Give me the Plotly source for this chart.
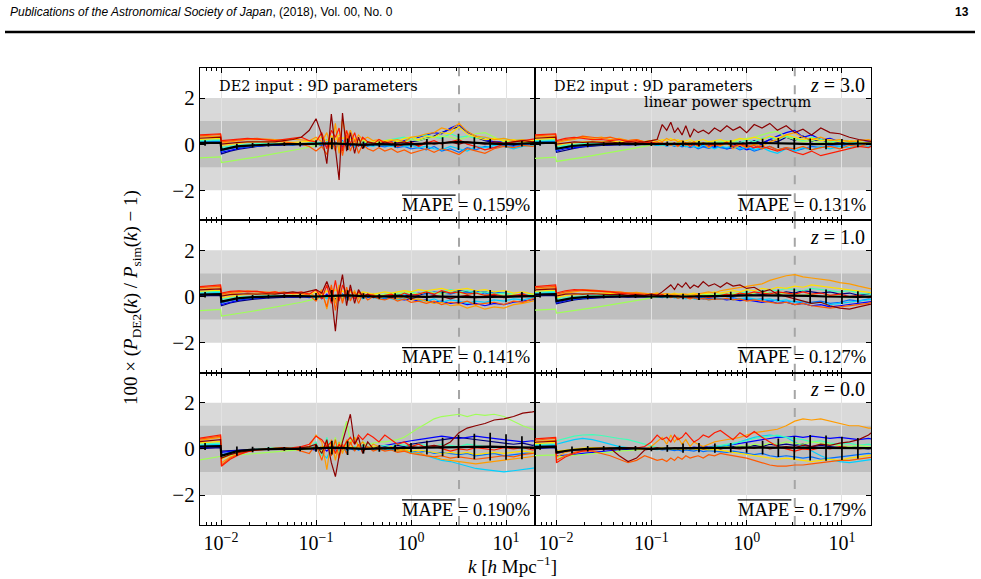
import plotly.graph_objects as go
from plotly.subplots import make_subplots

# ---------------- data ----------------
K = [0.0056, 0.0068, 0.0082, 0.0099, 0.0101, 0.0125, 0.0155, 0.019, 0.024, 0.03,
     0.037, 0.046, 0.057, 0.07, 0.085, 0.1, 0.115, 0.13, 0.145, 0.16,
     0.175, 0.19, 0.21, 0.23, 0.255, 0.28, 0.31, 0.35, 0.4, 0.46,
     0.53, 0.62, 0.72, 0.85, 1.0, 1.2, 1.45, 1.75, 2.1, 2.6,
     3.2, 3.9, 4.8, 6.0, 7.5, 9.5, 12.0, 15.0, 19.0, 22.0]

KM = [0.0056, 0.0068, 0.0099, 0.0101, 0.0147, 0.0215, 0.0316, 0.0464, 0.0681, 0.1,
      0.147, 0.215, 0.316, 0.464, 0.681, 1.0, 1.47, 2.15, 3.16, 4.64,
      6.81, 10.0, 14.7, 21.5]

COLORS = ["#00007f", "#0000ff", "#0070ff", "#00d0ff", "#40ffb8", "#a0ff58",
          "#ffe000", "#ff9c00", "#ff5a00", "#ff1a00", "#8b0000"]

Z3_DE2 = [
    [0.0,0.02,0.03,0.05,-0.42,-0.3,-0.22,-0.15,-0.1,-0.07,
     -0.05,-0.03,-0.04,-0.02,0.0,0.02,-0.05,0.05,-0.1,0.08,
     -0.05,0.1,-0.1,0.05,0.0,-0.08,0.05,0.0,-0.05,0.02,
     0.05,-0.02,0.1,0.05,0.1,0.15,0.25,0.35,0.5,0.65,
     0.75,0.55,0.3,0.15,0.05,0.02,-0.05,0.0,0.05,0.05],
    [0.05,0.06,0.07,0.08,-0.35,-0.25,-0.18,-0.12,-0.08,-0.05,
     -0.04,-0.02,0.0,-0.03,0.02,-0.05,0.08,-0.12,0.1,-0.08,
     0.12,-0.1,0.05,-0.08,0.1,-0.05,0.0,0.05,-0.03,0.08,
     0.0,0.1,0.05,0.15,0.2,0.3,0.4,0.5,0.45,0.7,
     0.85,0.5,0.35,0.2,0.1,0.1,0.0,-0.05,0.05,0.0],
    [0.1,0.1,0.12,0.12,-0.3,-0.2,-0.14,-0.1,-0.06,-0.04,
     -0.02,0.0,-0.05,0.02,-0.02,0.05,-0.1,0.1,-0.15,0.05,
     -0.1,0.15,-0.05,0.0,-0.12,0.05,-0.05,-0.1,0.0,-0.08,
     -0.12,-0.05,-0.15,-0.1,-0.2,-0.15,-0.25,-0.1,-0.3,-0.2,
     -0.35,-0.15,-0.25,-0.1,-0.15,-0.05,-0.1,0.0,-0.05,0.0],
    [0.12,0.14,0.15,0.16,-0.2,-0.12,-0.08,-0.05,-0.02,0.0,
     0.02,0.0,0.03,-0.02,0.05,0.0,0.12,0.2,-0.1,0.05,
     -0.2,0.1,-0.05,0.05,-0.1,0.0,-0.15,-0.05,-0.1,0.0,
     -0.05,-0.1,0.0,-0.1,-0.05,-0.15,-0.1,-0.2,-0.25,-0.1,
     -0.2,-0.3,-0.1,-0.15,-0.05,-0.1,-0.2,-0.1,-0.05,-0.1],
    [0.15,0.15,0.18,0.2,-0.15,-0.08,-0.03,0.0,0.02,0.03,
     0.05,0.03,0.05,0.0,0.05,0.1,0.0,0.05,0.1,-0.05,
     0.05,0.1,0.0,0.05,0.1,0.0,0.05,0.1,0.0,0.1,
     0.15,0.2,0.25,0.3,0.2,0.35,0.4,0.3,0.25,0.45,
     0.3,0.35,0.25,0.3,0.2,0.25,0.15,0.2,0.1,0.15],
    [-0.6,-0.58,-0.56,-0.55,-0.8,-0.75,-0.7,-0.62,-0.55,-0.48,
     -0.42,-0.35,-0.28,-0.2,-0.12,-0.05,0.0,0.05,0.1,0.0,
     0.1,0.05,0.15,0.0,0.1,0.05,0.15,0.05,0.1,0.05,
     0.1,0.05,0.15,0.1,0.2,0.15,0.25,0.3,0.35,0.3,
     0.2,0.3,0.45,0.5,0.3,0.1,0.15,0.05,0.1,0.05],
    [0.2,0.22,0.22,0.25,-0.05,0.0,0.05,0.08,0.1,0.1,
     0.12,0.1,0.08,0.1,0.12,0.2,0.3,0.15,0.35,0.2,
     0.4,0.25,0.3,0.2,0.25,0.15,0.2,0.1,0.15,0.1,
     0.15,0.2,0.1,0.25,0.3,0.2,0.35,0.3,0.5,0.45,
     0.75,0.45,0.3,0.2,0.25,0.15,0.2,0.1,0.15,0.1],
    [0.3,0.32,0.33,0.35,0.05,0.1,0.15,0.2,0.2,0.22,
     0.2,0.18,0.22,0.2,0.15,0.3,0.1,0.5,-0.2,0.9,
     -0.4,1.1,0.2,0.6,0.1,0.4,0.2,0.3,0.15,0.2,
     0.1,0.15,0.2,0.1,0.3,0.35,0.45,0.5,0.7,0.6,
     0.9,0.55,0.35,0.3,0.2,0.25,0.15,0.2,0.1,0.15],
    [0.35,0.38,0.4,0.42,0.1,0.15,0.2,0.22,0.25,0.2,
     0.15,0.1,0.05,0.0,-0.1,-0.3,-0.1,-0.45,0.2,-0.3,
     0.3,-0.5,0.4,-0.3,0.2,-0.4,0.0,-0.2,-0.3,-0.15,
     -0.3,-0.2,-0.35,-0.25,-0.4,-0.3,-0.2,-0.35,-0.2,-0.3,
     -0.45,-0.2,-0.3,-0.4,-0.2,-0.1,-0.15,-0.05,-0.1,0.0],
    [0.4,0.42,0.45,0.45,0.15,0.2,0.22,0.25,0.2,0.18,
     0.15,0.2,0.25,0.3,0.15,0.1,0.5,-0.2,0.6,0.3,
     0.7,-0.3,0.6,0.0,0.5,-0.1,0.3,0.1,0.0,0.2,
     0.05,0.1,-0.1,0.0,0.1,-0.1,0.05,0.15,0.0,0.1,
     0.2,0.0,-0.1,-0.25,-0.15,0.0,0.1,0.15,0.2,0.25],
    [0.25,0.27,0.28,0.3,0.0,0.05,0.08,0.1,0.1,0.12,
     0.1,0.15,0.2,0.3,0.6,1.1,0.4,-0.85,1.3,-0.2,
     -1.55,1.35,-0.3,0.5,-0.4,0.3,-0.2,0.1,0.05,0.0,
     0.1,0.0,0.05,0.1,0.0,-0.05,0.1,0.0,0.05,0.1,
     0.0,0.1,0.05,0.0,0.1,0.05,0.1,0.15,0.1,0.15],
]

Z3_LIN = [
    [0.0,0.02,0.03,0.05,-0.35,-0.25,-0.18,-0.12,-0.08,-0.05,
     -0.04,-0.03,-0.02,-0.04,-0.02,0.0,-0.03,0.02,-0.05,0.0,
     -0.02,0.03,-0.05,0.0,-0.03,0.02,-0.05,0.0,0.03,-0.02,
     0.0,0.05,-0.05,0.1,0.0,0.15,0.05,0.2,0.1,0.3,
     0.15,0.35,0.1,0.2,0.05,0.1,0.0,0.05,0.0,0.02],
    [0.05,0.06,0.07,0.08,-0.3,-0.2,-0.15,-0.1,-0.06,-0.04,
     -0.02,0.0,-0.03,0.0,0.02,-0.02,0.03,-0.05,0.02,-0.03,
     0.05,-0.05,0.02,-0.08,0.0,-0.05,0.05,-0.1,-0.05,-0.15,
     -0.1,-0.2,-0.15,-0.1,-0.25,-0.15,0.0,0.2,0.35,0.5,
     0.6,0.3,0.4,0.2,0.25,0.1,0.15,0.05,0.1,0.05],
    [0.1,0.1,0.12,0.12,-0.25,-0.15,-0.1,-0.07,-0.04,-0.02,
     0.0,-0.02,0.02,-0.03,0.0,0.03,-0.05,0.0,-0.08,-0.03,
     -0.1,-0.05,-0.12,-0.08,-0.15,-0.1,-0.2,-0.12,-0.18,-0.1,
     -0.15,-0.2,-0.1,-0.25,-0.15,-0.3,-0.2,-0.1,-0.25,-0.15,
     -0.3,-0.2,-0.1,-0.15,-0.05,-0.1,0.0,-0.05,0.0,-0.02],
    [0.12,0.14,0.15,0.16,-0.18,-0.1,-0.06,-0.03,0.0,0.02,
     0.0,0.03,0.0,0.02,-0.02,0.0,-0.05,-0.02,-0.08,0.0,
     -0.05,-0.1,-0.03,-0.12,-0.05,-0.1,-0.15,-0.05,-0.1,-0.2,
     -0.1,-0.15,-0.05,-0.2,-0.1,-0.25,-0.15,-0.3,-0.4,-0.2,
     -0.3,-0.15,-0.25,-0.1,-0.2,-0.1,-0.15,-0.05,-0.1,0.0],
    [0.15,0.15,0.18,0.2,-0.12,-0.05,0.0,0.02,0.03,0.05,
     0.03,0.05,0.02,0.05,0.0,0.03,0.0,-0.05,0.02,-0.05,
     0.0,-0.1,0.0,-0.05,-0.1,0.0,-0.05,0.05,0.0,0.05,
     0.1,0.0,0.15,0.05,0.2,0.1,0.25,0.3,0.2,0.35,
     0.25,0.15,0.3,0.2,0.1,0.15,0.05,0.1,0.05,0.0],
    [-0.62,-0.6,-0.58,-0.56,-0.75,-0.7,-0.64,-0.57,-0.5,-0.43,
     -0.37,-0.3,-0.24,-0.17,-0.1,-0.03,0.0,0.05,0.0,0.05,
     0.0,0.08,0.02,0.05,0.1,0.05,0.1,0.05,0.12,0.08,
     0.1,0.15,0.1,0.2,0.25,0.3,0.4,0.5,0.55,0.3,
     0.2,0.1,0.15,0.05,0.1,0.0,0.05,0.0,0.05,0.0],
    [0.2,0.22,0.22,0.25,-0.05,0.02,0.05,0.1,0.12,0.1,
     0.12,0.1,0.15,0.1,0.12,0.15,0.1,0.2,0.15,0.25,
     0.15,0.2,0.1,0.15,0.2,0.1,0.15,0.2,0.1,0.15,
     0.2,0.1,0.15,0.25,0.2,0.3,0.2,0.35,0.25,0.4,
     0.3,0.2,0.25,0.15,0.2,0.1,0.15,0.1,0.05,0.1],
    [0.3,0.32,0.33,0.35,0.05,0.15,0.2,0.3,0.25,0.3,
     0.2,0.25,0.15,0.2,0.1,0.15,0.2,0.1,0.25,0.15,
     0.2,0.1,0.15,0.05,0.1,0.0,-0.1,0.05,-0.15,0.0,
     -0.1,0.05,-0.2,-0.05,-0.15,0.0,-0.1,0.1,0.2,0.4,
     0.5,0.3,0.2,0.3,0.15,0.2,0.1,0.15,0.2,0.1],
    [0.35,0.38,0.4,0.42,0.1,0.2,0.25,0.35,0.3,0.25,
     0.3,0.2,0.15,0.2,0.1,0.05,0.1,0.0,0.05,-0.05,
     0.0,-0.1,0.05,-0.05,0.0,0.1,-0.05,0.05,-0.1,0.0,
     -0.05,0.1,-0.1,0.0,-0.15,-0.05,-0.2,-0.1,-0.25,-0.15,
     -0.2,-0.1,-0.25,-0.15,-0.1,-0.2,-0.05,-0.1,0.0,-0.05],
    [0.4,0.42,0.45,0.45,0.15,0.25,0.3,0.25,0.2,0.2,
     0.15,0.2,0.1,0.15,0.05,0.1,0.0,0.05,-0.05,0.0,
     0.05,-0.05,0.0,0.05,-0.1,0.0,-0.05,0.05,0.0,-0.05,
     0.0,0.05,-0.1,0.0,-0.05,-0.15,-0.1,-0.2,-0.3,-0.2,
     -0.35,-0.45,-0.3,-0.5,-0.4,-0.3,-0.2,-0.1,-0.15,0.0],
    [0.25,0.27,0.28,0.3,0.0,0.05,0.1,0.08,0.1,0.08,
     0.1,0.05,0.1,0.08,0.1,0.15,0.2,0.85,0.6,0.95,
     0.5,0.7,0.4,0.8,0.3,0.65,0.5,0.6,0.45,0.7,
     0.55,0.8,0.6,0.75,0.5,0.85,0.7,0.9,0.6,0.8,
     0.5,0.65,0.4,0.7,0.5,0.45,0.3,0.2,0.15,0.1],
]

Z1_DE2 = [
    [0.02,0.03,0.04,0.05,-0.4,-0.28,-0.2,-0.14,-0.1,-0.07,
     -0.05,-0.04,-0.02,-0.03,0.0,-0.02,0.05,-0.05,0.08,-0.1,
     0.05,-0.05,0.1,-0.05,0.05,0.0,-0.05,0.05,0.0,0.05,
     0.0,0.05,0.1,0.0,0.1,0.05,0.15,0.1,0.2,0.15,
     0.25,0.2,0.15,0.2,0.1,0.15,0.05,0.1,0.0,0.05],
    [0.06,0.07,0.08,0.1,-0.35,-0.24,-0.16,-0.1,-0.06,-0.04,
     -0.02,0.0,-0.03,0.0,-0.05,0.05,-0.1,0.1,-0.15,0.05,
     -0.1,0.1,-0.05,0.05,-0.1,0.0,0.05,-0.05,0.0,-0.05,
     -0.1,-0.05,-0.1,-0.15,-0.1,-0.2,-0.15,-0.25,-0.2,-0.3,
     -0.25,-0.35,-0.3,-0.4,-0.3,-0.35,-0.25,-0.2,-0.15,-0.1],
    [0.1,0.12,0.13,0.14,-0.28,-0.18,-0.12,-0.08,-0.05,-0.02,
     0.0,0.02,0.0,0.03,-0.02,0.0,0.08,-0.08,0.12,0.0,
     0.08,-0.12,0.05,-0.05,0.08,-0.03,0.05,0.0,-0.05,0.0,
     0.05,0.0,0.05,0.1,0.05,0.15,0.1,0.2,0.15,0.1,
     0.2,0.15,0.25,0.1,0.2,0.15,0.05,0.1,0.05,0.0],
    [0.14,0.15,0.16,0.18,-0.2,-0.12,-0.07,-0.03,0.0,0.02,
     0.03,0.02,0.05,0.0,0.03,-0.05,0.05,-0.1,0.15,-0.2,
     0.0,0.1,-0.1,0.0,-0.05,0.05,-0.1,0.0,-0.05,-0.1,
     -0.05,-0.1,-0.15,-0.1,-0.05,-0.15,-0.2,-0.1,-0.25,-0.15,
     -0.2,-0.3,-0.2,-0.25,-0.15,-0.2,-0.1,-0.15,-0.05,-0.1],
    [0.18,0.2,0.2,0.22,-0.12,-0.06,-0.02,0.0,0.02,0.04,
     0.05,0.03,0.06,0.02,0.05,0.0,0.1,-0.05,0.15,0.0,
     0.1,-0.05,0.15,0.05,0.1,0.0,0.05,0.1,0.05,0.0,
     0.1,0.05,0.15,0.1,0.2,0.1,0.25,0.15,0.2,0.3,
     0.2,0.25,0.15,0.2,0.1,0.15,0.1,0.05,0.1,0.05],
    [-0.62,-0.6,-0.58,-0.56,-0.85,-0.8,-0.74,-0.67,-0.6,-0.53,
     -0.46,-0.39,-0.32,-0.25,-0.17,-0.1,-0.05,0.0,0.05,-0.05,
     0.05,0.0,0.1,0.0,0.05,0.1,0.0,0.05,0.1,0.05,
     0.1,0.15,0.1,0.2,0.15,0.1,0.2,0.15,0.1,0.2,
     0.15,0.1,0.15,0.05,0.1,0.05,0.1,0.0,0.05,0.0],
    [0.22,0.24,0.25,0.28,-0.05,0.02,0.06,0.1,0.12,0.1,
     0.12,0.15,0.1,0.12,0.1,0.2,0.05,0.25,0.1,0.3,
     0.15,0.25,0.1,0.2,0.15,0.1,0.2,0.15,0.1,0.15,
     0.2,0.15,0.2,0.25,0.2,0.3,0.25,0.3,0.35,0.25,
     0.3,0.35,0.25,0.3,0.2,0.25,0.15,0.2,0.1,0.15],
    [0.3,0.33,0.35,0.38,0.05,0.12,0.18,0.22,0.2,0.18,
     0.2,0.15,0.18,0.1,0.15,0.0,0.3,-0.55,0.4,-0.3,
     0.5,-0.2,0.3,0.0,0.25,-0.1,0.15,0.0,0.1,-0.05,
     0.0,0.05,-0.1,0.0,-0.15,-0.1,-0.2,-0.3,-0.25,-0.4,
     -0.35,-0.5,-0.4,-0.55,-0.45,-0.5,-0.35,-0.3,-0.2,-0.15],
    [0.38,0.4,0.42,0.45,0.1,0.18,0.22,0.25,0.22,0.2,
     0.15,0.2,0.12,0.15,0.05,-0.2,0.2,-0.45,0.5,-0.6,
     0.3,-0.3,0.4,-0.2,0.2,-0.3,0.1,-0.15,0.0,-0.1,
     -0.15,-0.05,-0.2,-0.1,-0.25,-0.2,-0.3,-0.2,-0.35,-0.25,
     -0.3,-0.2,-0.35,-0.3,-0.25,-0.35,-0.2,-0.25,-0.1,-0.05],
    [0.42,0.45,0.48,0.5,0.15,0.22,0.25,0.2,0.22,0.15,
     0.2,0.12,0.15,0.2,0.1,0.3,-0.1,0.5,-0.3,0.7,
     -0.2,0.5,0.1,0.3,-0.1,0.2,0.0,0.1,0.05,-0.05,
     0.05,0.1,0.0,0.15,0.05,0.1,0.2,0.1,0.25,0.15,
     0.2,0.1,0.15,0.05,0.1,0.0,0.05,0.1,0.0,0.05],
    [0.28,0.3,0.32,0.33,0.02,0.08,0.1,0.12,0.1,0.12,
     0.1,0.15,0.2,0.15,0.25,0.3,0.15,0.65,0.1,-1.5,
     0.2,0.95,-0.4,0.5,-0.3,0.3,0.0,0.1,-0.05,0.05,
     0.0,-0.05,0.05,0.0,-0.1,0.0,-0.05,0.05,0.0,-0.1,
     0.0,0.05,-0.05,0.0,0.05,-0.05,0.0,0.05,0.0,0.05],
]

Z1_LIN = [
    [0.02,0.03,0.04,0.05,-0.32,-0.22,-0.15,-0.1,-0.07,-0.04,
     -0.03,-0.02,0.0,-0.02,0.0,0.02,-0.02,0.03,0.0,-0.03,
     0.02,-0.02,0.0,0.03,-0.03,0.0,0.02,0.05,0.0,0.05,
     0.03,0.08,0.05,0.1,0.05,0.12,0.08,0.15,0.1,0.2,
     0.15,0.25,0.2,0.15,0.2,0.1,0.15,0.05,0.1,0.05],
    [0.06,0.07,0.08,0.1,-0.28,-0.18,-0.12,-0.08,-0.05,-0.03,
     -0.02,0.0,-0.03,0.0,-0.02,0.0,0.02,-0.03,0.02,0.0,
     -0.03,0.0,-0.05,-0.02,-0.05,-0.08,-0.05,-0.1,-0.08,-0.12,
     -0.1,-0.15,-0.12,-0.18,-0.15,-0.2,-0.25,-0.2,-0.3,-0.25,
     -0.35,-0.3,-0.4,-0.35,-0.45,-0.4,-0.35,-0.3,-0.25,-0.2],
    [0.1,0.12,0.13,0.14,-0.24,-0.15,-0.1,-0.06,-0.03,0.0,
     0.0,0.02,0.0,0.02,0.0,-0.02,0.0,-0.05,0.0,-0.03,
     -0.05,0.0,-0.03,-0.05,0.0,-0.05,-0.08,-0.03,-0.1,-0.05,
     -0.1,-0.08,-0.05,-0.12,-0.1,-0.15,-0.1,-0.2,-0.15,-0.25,
     -0.2,-0.3,-0.25,-0.2,-0.3,-0.25,-0.15,-0.2,-0.1,-0.15],
    [0.14,0.15,0.16,0.18,-0.18,-0.1,-0.05,-0.02,0.0,0.02,
     0.02,0.03,0.02,0.0,0.02,0.0,-0.03,0.0,-0.05,-0.02,
     -0.05,-0.08,-0.03,-0.1,-0.05,-0.1,-0.12,-0.08,-0.15,-0.1,
     -0.12,-0.08,-0.15,-0.1,-0.05,-0.1,-0.15,-0.1,-0.2,-0.15,
     -0.25,-0.2,-0.3,-0.25,-0.35,-0.3,-0.25,-0.2,-0.15,-0.1],
    [0.18,0.2,0.2,0.22,-0.1,-0.04,0.0,0.02,0.04,0.05,
     0.04,0.05,0.03,0.05,0.02,0.0,0.03,0.0,-0.03,0.02,
     0.0,-0.05,0.0,0.03,0.0,0.05,0.02,0.08,0.05,0.1,
     0.08,0.12,0.1,0.15,0.2,0.15,0.25,0.3,0.25,0.35,
     0.3,0.25,0.35,0.3,0.25,0.2,0.25,0.15,0.1,0.05],
    [-0.6,-0.58,-0.56,-0.55,-0.72,-0.67,-0.61,-0.55,-0.49,-0.43,
     -0.37,-0.31,-0.25,-0.18,-0.11,-0.05,0.0,0.03,0.0,0.05,
     0.02,0.05,0.0,0.05,0.08,0.05,0.1,0.05,0.1,0.08,
     0.12,0.1,0.15,0.12,0.1,0.15,0.2,0.15,0.1,0.15,
     0.1,0.05,0.1,0.0,0.05,0.0,-0.05,0.0,-0.05,0.0],
    [0.22,0.24,0.25,0.28,-0.04,0.04,0.08,0.12,0.14,0.12,
     0.15,0.12,0.15,0.1,0.12,0.1,0.15,0.08,0.12,0.1,
     0.15,0.1,0.12,0.08,0.1,0.15,0.1,0.12,0.15,0.2,
     0.15,0.2,0.25,0.2,0.3,0.25,0.35,0.3,0.4,0.35,
     0.45,0.4,0.5,0.45,0.4,0.35,0.3,0.25,0.2,0.15],
    [0.3,0.33,0.35,0.38,0.05,0.15,0.2,0.25,0.22,0.2,
     0.18,0.2,0.15,0.18,0.12,0.1,0.15,0.1,0.12,0.08,
     0.1,0.05,0.08,0.1,0.05,0.08,0.1,0.15,0.2,0.15,
     0.25,0.3,0.35,0.4,0.45,0.5,0.55,0.7,0.8,0.9,
     0.95,0.85,0.8,0.75,0.7,0.6,0.55,0.45,0.35,0.3],
    [0.36,0.4,0.42,0.44,0.1,0.2,0.25,0.3,0.28,0.25,
     0.22,0.2,0.15,0.12,0.1,0.05,0.08,0.0,0.05,-0.05,
     0.0,-0.08,-0.02,-0.05,-0.1,-0.05,-0.12,-0.08,-0.15,-0.1,
     -0.12,-0.08,-0.15,-0.1,-0.2,-0.15,-0.2,-0.25,-0.3,-0.25,
     -0.35,-0.3,-0.4,-0.45,-0.5,-0.45,-0.4,-0.35,-0.3,-0.2],
    [0.42,0.45,0.48,0.5,0.15,0.25,0.3,0.28,0.25,0.22,
     0.2,0.15,0.12,0.1,0.05,0.1,0.05,0.08,0.0,0.05,
     0.0,0.05,-0.05,0.0,-0.05,0.0,0.05,0.0,-0.05,0.0,
     0.05,0.1,0.05,0.15,0.1,0.2,0.15,0.1,0.2,0.15,
     0.1,0.2,0.1,0.15,0.05,0.1,0.0,0.05,-0.05,0.0],
    [0.28,0.3,0.32,0.33,0.02,0.1,0.12,0.1,0.12,0.1,
     0.08,0.1,0.05,0.08,0.05,0.1,0.05,0.2,0.35,0.5,
     0.3,0.55,0.4,0.6,0.35,0.5,0.4,0.65,0.45,0.55,
     0.4,0.6,0.45,0.5,0.35,0.4,0.2,0.3,0.1,0.0,
     -0.1,-0.2,-0.3,-0.25,-0.4,-0.5,-0.55,-0.45,-0.35,-0.3],
]

Z0_DE2 = [
    [0.0,0.02,0.03,0.05,-0.1,-0.07,-0.05,-0.04,-0.03,-0.02,
     -0.02,0.0,-0.02,0.0,0.02,0.05,-0.05,0.08,-0.08,0.05,
     -0.05,0.1,-0.05,0.05,0.0,0.05,-0.03,0.05,0.0,0.05,
     0.1,0.05,0.15,0.1,0.2,0.25,0.3,0.35,0.4,0.45,
     0.5,0.45,0.4,0.35,0.3,0.25,0.2,0.25,0.15,0.2],
    [0.05,0.06,0.07,0.08,-0.15,-0.1,-0.07,-0.05,-0.03,-0.02,
     0.0,-0.02,0.0,0.02,0.0,-0.05,0.1,-0.1,0.12,-0.05,
     0.1,-0.05,0.05,0.0,0.08,-0.05,0.05,0.0,0.05,0.1,
     0.15,0.2,0.25,0.3,0.35,0.4,0.45,0.5,0.55,0.5,
     0.45,0.5,0.55,0.5,0.45,0.4,0.35,0.3,0.35,0.3],
    [0.12,0.13,0.15,0.16,-0.25,-0.15,-0.1,-0.06,-0.03,0.0,
     0.02,0.0,0.03,0.0,0.02,0.0,-0.1,0.1,-0.12,0.05,
     -0.1,0.05,-0.08,0.0,-0.05,0.05,-0.05,0.0,-0.05,0.0,
     -0.05,0.0,-0.1,-0.05,-0.1,-0.15,-0.1,-0.2,-0.15,-0.2,
     -0.25,-0.2,-0.3,-0.25,-0.2,-0.3,-0.25,-0.2,-0.15,-0.2],
    [0.15,0.17,0.18,0.2,-0.3,-0.18,-0.1,-0.05,-0.02,0.0,
     0.02,0.03,0.0,0.02,0.05,0.1,-0.2,-0.4,0.05,-0.1,
     0.1,0.0,-0.1,0.05,0.0,-0.05,0.0,0.05,0.0,-0.05,
     0.0,-0.05,-0.1,-0.05,-0.15,-0.2,-0.3,-0.4,-0.5,-0.55,
     -0.65,-0.75,-0.85,-0.9,-0.95,-1.0,-0.95,-0.9,-0.85,-0.8],
    [0.2,0.22,0.24,0.25,-0.35,-0.2,-0.12,-0.06,-0.02,0.02,
     0.05,0.03,0.06,0.02,0.05,0.3,-0.3,0.5,-0.2,0.1,
     0.3,-0.1,0.2,0.0,0.1,0.05,0.15,0.1,0.05,0.1,
     0.15,0.1,0.2,0.15,0.1,0.2,0.15,0.1,0.2,0.15,
     0.1,0.2,0.15,0.1,0.05,0.1,0.05,0.0,0.05,0.0],
    [-0.5,-0.45,-0.4,-0.35,-0.32,-0.3,-0.27,-0.24,-0.2,-0.17,
     -0.14,-0.1,-0.07,-0.03,0.0,0.05,-0.1,0.3,-0.2,0.5,
     -0.3,0.6,1.2,0.3,0.5,0.1,0.3,0.2,0.25,0.3,
     0.3,0.35,0.4,0.5,0.7,0.9,1.1,1.3,1.4,1.45,
     1.5,1.4,1.5,1.45,1.5,1.4,1.2,1.0,0.85,0.8],
    [0.25,0.27,0.3,0.32,-0.45,-0.25,-0.15,-0.08,-0.03,0.0,
     0.02,0.05,0.0,0.03,0.05,0.0,0.1,0.05,0.15,0.0,
     0.1,0.05,0.15,0.1,0.05,0.1,0.0,0.05,0.1,0.05,
     0.0,0.05,-0.05,0.0,-0.1,-0.05,-0.1,-0.15,-0.2,-0.15,
     -0.2,-0.15,-0.25,-0.2,-0.15,-0.2,-0.15,-0.1,-0.15,-0.1],
    [0.35,0.4,0.45,0.5,-0.6,-0.35,-0.2,-0.1,-0.05,-0.02,
     0.0,0.03,0.0,0.05,0.1,0.6,0.3,-0.9,0.4,-0.5,
     0.3,-0.2,0.4,0.2,0.5,0.1,0.3,0.0,0.2,0.1,
     0.0,0.1,-0.1,-0.05,-0.2,-0.15,-0.3,-0.35,-0.45,-0.5,
     -0.55,-0.6,-0.65,-0.6,-0.55,-0.5,-0.45,-0.4,-0.35,-0.3],
    [0.4,0.45,0.5,0.55,-0.7,-0.4,-0.22,-0.12,-0.05,-0.02,
     0.0,-0.05,0.02,-0.1,-0.2,0.2,-0.5,0.3,-0.3,0.4,
     -0.4,0.2,-0.2,0.3,-0.1,0.2,-0.15,0.1,-0.1,0.0,
     -0.1,-0.05,-0.15,-0.1,-0.2,-0.25,-0.3,-0.35,-0.3,-0.4,
     -0.35,-0.4,-0.45,-0.4,-0.35,-0.3,-0.35,-0.25,-0.2,-0.15],
    [0.45,0.5,0.55,0.6,-0.75,-0.45,-0.25,-0.12,-0.05,0.0,
     0.02,0.0,0.05,0.1,0.2,0.55,0.4,0.1,0.3,-0.2,
     0.2,0.0,0.3,0.5,0.2,0.6,0.4,0.65,0.5,0.3,
     0.6,0.4,0.2,0.3,0.1,0.2,0.05,0.1,0.0,-0.1,
     0.0,-0.05,0.05,0.0,-0.05,0.05,0.0,0.05,-0.05,0.0],
    [0.3,0.33,0.36,0.4,-0.4,-0.25,-0.15,-0.08,-0.03,0.0,
     0.02,0.05,0.0,0.05,0.1,0.2,-0.2,0.4,-0.6,-1.2,
     -0.3,0.3,0.9,1.5,0.2,0.5,-0.2,0.3,0.0,0.1,
     0.0,0.05,0.0,0.05,0.1,0.05,0.1,0.15,0.1,0.3,
     0.7,0.9,1.0,1.1,1.25,1.3,1.4,1.55,1.6,1.65],
]

Z0_LIN = [
    [0.0,0.02,0.03,0.05,-0.15,-0.1,-0.07,-0.05,-0.03,-0.02,
     -0.02,0.0,-0.02,0.0,-0.02,0.0,0.02,0.0,0.03,0.0,
     0.02,0.05,0.0,0.03,0.05,0.0,0.05,0.03,0.0,0.05,
     0.0,0.05,0.1,0.05,0.1,0.15,0.1,0.2,0.15,0.2,
     0.15,0.2,0.1,0.15,0.1,0.05,0.1,0.05,0.0,0.05],
    [0.05,0.06,0.07,0.08,-0.3,-0.28,-0.25,-0.2,-0.15,-0.1,
     -0.06,-0.04,-0.02,0.0,-0.02,0.0,0.02,-0.02,0.0,0.03,
     0.0,0.02,0.05,0.0,0.05,0.08,0.05,0.1,0.08,0.12,
     0.1,0.15,0.2,0.25,0.3,0.35,0.4,0.45,0.5,0.5,
     0.55,0.5,0.55,0.5,0.45,0.5,0.45,0.4,0.45,0.4],
    [0.1,0.12,0.13,0.14,-0.2,-0.12,-0.08,-0.05,-0.02,0.0,
     0.02,0.0,0.03,0.0,0.02,-0.02,0.0,-0.05,-0.02,-0.05,
     -0.08,-0.05,-0.1,-0.05,-0.08,-0.1,-0.05,-0.12,-0.08,-0.1,
     -0.12,-0.15,-0.1,-0.15,-0.2,-0.25,-0.2,-0.3,-0.35,-0.3,
     -0.35,-0.4,-0.35,-0.45,-0.4,-0.35,-0.3,-0.25,-0.2,-0.25],
    [0.14,0.15,0.16,0.18,0.2,0.3,0.4,0.45,0.4,0.3,
     0.2,0.1,0.05,0.0,0.02,0.0,-0.03,0.0,0.02,-0.02,
     0.0,0.03,0.0,0.05,0.02,0.0,0.05,0.02,0.0,0.05,
     0.1,0.15,0.2,0.3,0.4,0.5,0.55,0.6,0.55,0.5,
     0.3,0.1,-0.1,-0.3,-0.45,-0.55,-0.6,-0.55,-0.5,-0.45],
    [0.18,0.2,0.2,0.22,0.35,0.45,0.55,0.6,0.62,0.58,
     0.5,0.45,0.4,0.3,0.2,0.1,0.05,0.0,0.05,0.0,
     0.03,0.0,0.05,0.02,0.0,0.05,0.0,0.03,0.05,0.1,
     0.15,0.2,0.25,0.3,0.35,0.45,0.5,0.55,0.6,0.5,
     0.45,0.4,0.3,0.35,0.25,0.2,0.25,0.15,0.2,0.15],
    [-0.3,-0.28,-0.27,-0.26,-0.35,-0.32,-0.28,-0.24,-0.2,-0.17,
     -0.14,-0.1,-0.07,-0.04,-0.02,0.0,0.02,0.0,0.03,0.0,
     0.02,0.0,0.03,0.05,0.0,0.03,0.0,0.05,0.02,0.0,
     0.05,0.1,0.05,0.15,0.1,0.2,0.15,0.25,0.2,0.3,
     0.25,0.2,0.3,0.25,0.2,0.15,0.1,0.15,0.1,0.05],
    [0.22,0.24,0.25,0.28,-0.1,-0.05,0.0,0.03,0.05,0.05,
     0.03,0.05,0.02,0.0,-0.02,0.0,0.02,0.05,0.0,0.03,
     0.0,0.02,-0.02,0.0,0.03,0.0,-0.03,0.0,-0.05,-0.02,
     -0.05,-0.1,-0.15,-0.2,-0.25,-0.3,-0.35,-0.4,-0.45,-0.4,
     -0.45,-0.5,-0.55,-0.5,-0.45,-0.5,-0.4,-0.35,-0.3,-0.25],
    [0.3,0.33,0.35,0.38,-0.35,-0.15,-0.05,0.0,0.02,0.05,
     0.03,0.0,0.05,0.02,0.0,0.1,0.3,0.5,0.2,0.6,
     0.3,0.5,0.2,0.4,0.1,0.3,0.2,0.1,0.2,0.3,
     0.35,0.4,0.45,0.5,0.6,0.7,0.75,0.8,0.85,1.0,
     1.2,1.3,1.25,1.3,1.2,1.1,1.0,1.0,0.9,0.9],
    [0.36,0.4,0.42,0.46,-0.5,-0.3,-0.15,-0.08,-0.1,-0.2,
     -0.3,-0.45,-0.6,-0.5,-0.3,-0.4,-0.5,-0.45,-0.55,-0.4,
     -0.5,-0.35,-0.45,-0.3,-0.4,-0.35,-0.3,-0.4,-0.25,-0.3,
     -0.2,-0.25,-0.3,-0.35,-0.4,-0.5,-0.6,-0.7,-0.75,-0.75,
     -0.7,-0.7,-0.65,-0.6,-0.55,-0.5,-0.5,-0.45,-0.4,-0.35],
    [0.42,0.45,0.48,0.5,-0.6,-0.35,-0.2,-0.1,-0.05,0.0,
     0.02,0.0,0.05,0.03,0.1,0.3,0.6,0.4,0.5,0.3,
     0.6,0.4,0.5,0.7,0.5,0.3,0.4,0.6,0.5,0.7,
     0.8,0.6,0.4,0.7,0.5,0.75,0.5,0.3,0.1,0.0,
     -0.1,0.0,-0.05,0.05,0.0,0.1,0.05,0.0,0.05,0.0],
    [0.28,0.3,0.32,0.33,-0.2,-0.1,-0.05,-0.02,0.0,0.0,
     0.02,-0.3,-0.55,-0.4,-0.05,0.0,0.05,0.0,0.03,0.0,
     0.05,0.0,0.02,0.05,0.0,0.03,0.05,0.0,0.02,0.05,
     0.0,0.05,0.02,0.0,0.05,0.02,0.1,0.0,0.05,0.1,
     0.05,0.15,0.1,0.2,0.15,0.25,0.3,0.4,0.6,0.8],
]

MEAN_Z3_DE2 = [0.05,0.05,0.06,-0.25,-0.1,-0.05,-0.02,0.0,0.0,0.02,0.03,0.0,-0.03,0.0,-0.02,0.0,0.02,0.05,0.1,0.05,0.02,0.0,0.02,0.05]
STD_Z3_DE2 = [0,0.12,0,0,0.12,0.1,0.08,0.08,0.1,0.15,0.25,0.25,0.15,0.12,0.12,0.15,0.2,0.25,0.35,0.25,0.2,0.15,0.12,0]
MEAN_Z3_LIN = [0.05,0.05,0.06,-0.2,-0.08,-0.03,0.0,0.02,0.0,0.0,0.02,0.03,0.02,0.0,0.02,0.03,0.05,0.05,0.02,0.0,0.0,0.02,0.02,0.03]
STD_Z3_LIN = [0,0.12,0,0,0.12,0.1,0.08,0.08,0.08,0.08,0.1,0.12,0.12,0.12,0.15,0.15,0.18,0.22,0.25,0.25,0.22,0.2,0.15,0]
MEAN_Z1_DE2 = [0.08,0.08,0.1,-0.22,-0.08,-0.03,0.0,0.02,0.02,0.0,0.03,0.05,0.02,0.0,0.02,0.0,-0.02,0.0,-0.02,-0.03,-0.02,0.0,0.0,0.02]
STD_Z1_DE2 = [0,0.12,0,0,0.12,0.1,0.08,0.08,0.1,0.15,0.25,0.22,0.12,0.1,0.12,0.15,0.18,0.22,0.28,0.3,0.3,0.25,0.2,0]
MEAN_Z1_LIN = [0.08,0.08,0.1,-0.2,-0.07,-0.02,0.0,0.02,0.02,0.0,0.02,0.0,0.0,0.02,0.03,0.05,0.05,0.05,0.05,0.03,0.0,-0.02,-0.02,0.0]
STD_Z1_LIN = [0,0.12,0,0,0.12,0.1,0.08,0.08,0.08,0.1,0.1,0.12,0.15,0.15,0.18,0.2,0.22,0.25,0.3,0.32,0.3,0.3,0.25,0]
MEAN_Z0_DE2 = [0.1,0.1,0.12,-0.3,-0.1,-0.03,0.0,0.0,0.0,0.02,0.05,0.03,0.0,0.02,0.03,0.05,0.05,0.08,0.1,0.1,0.1,0.08,0.05,0.05]
STD_Z0_DE2 = [0,0.15,0,0,0.2,0.12,0.08,0.08,0.1,0.15,0.3,0.3,0.2,0.15,0.15,0.2,0.3,0.4,0.5,0.55,0.6,0.55,0.5,0]
MEAN_Z0_LIN = [0.08,0.08,0.1,-0.15,-0.05,0.0,0.02,0.03,0.02,0.0,0.02,0.03,0.05,0.03,0.05,0.05,0.05,0.05,0.03,0.05,0.03,0.02,0.02,0.03]
STD_Z0_LIN = [0,0.12,0,0,0.15,0.12,0.1,0.1,0.1,0.1,0.15,0.2,0.2,0.2,0.2,0.22,0.3,0.4,0.5,0.55,0.55,0.5,0.45,0]

MAPE = ["0.159%", "0.131%", "0.141%", "0.127%", "0.190%", "0.179%"]
Z_LABELS = ["3.0", "1.0", "0.0"]
K_NYQ = 3.2
X_TICKS = [0.01, 0.1, 1, 10]
X_TICKTEXT = ["10<sup>−2</sup>", "10<sup>−1</sup>", "10<sup>0</sup>", "10<sup>1</sup>"]
X_MINOR = [m * 10.0 ** e for e in range(-3, 2) for m in range(2, 10)]
Y_TICKS = [-2, 0, 2]
BAND_OUTER = 2
BAND_INNER = 1

# ---------------- layout geometry ----------------
W, H = 981, 579
def px(x): return x / W
def py(y): return 1 - y / H

COLS = [(200, 535), (535, 871)]
ROWS = [(68, 220.3), (220.3, 372.7), (372.7, 525)]

MATH = "Liberation Serif"
TEXT = "DejaVu Serif"

fig = make_subplots(rows=3, cols=2, horizontal_spacing=0, vertical_spacing=0)

panels = [
    (1, 1, Z3_DE2, MEAN_Z3_DE2, STD_Z3_DE2),
    (1, 2, Z3_LIN, MEAN_Z3_LIN, STD_Z3_LIN),
    (2, 1, Z1_DE2, MEAN_Z1_DE2, STD_Z1_DE2),
    (2, 2, Z1_LIN, MEAN_Z1_LIN, STD_Z1_LIN),
    (3, 1, Z0_DE2, MEAN_Z0_DE2, STD_Z0_DE2),
    (3, 2, Z0_LIN, MEAN_Z0_LIN, STD_Z0_LIN),
]

shapes = []
annotations = []

for idx, (r, c, lines, mean, std) in enumerate(panels):
    for j, ys in enumerate(lines):
        fig.add_trace(go.Scatter(x=K, y=ys, mode="lines",
                                 line=dict(color=COLORS[j], width=1.2),
                                 showlegend=False, hoverinfo="skip"), row=r, col=c)
    fig.add_trace(go.Scatter(x=KM, y=mean, mode="lines",
                             line=dict(color="black", width=2.2),
                             error_y=dict(type="data", array=std, visible=True,
                                          color="black", thickness=1.7, width=0),
                             showlegend=False, hoverinfo="skip"), row=r, col=c)

    n = idx + 1
    xa = "x" if n == 1 else f"x{n}"
    ya = "y" if n == 1 else f"y{n}"

    # bands
    shapes.append(dict(type="rect", xref=f"{xa} domain", yref=ya, x0=0, x1=1,
                       y0=-BAND_OUTER, y1=BAND_OUTER, fillcolor="#d9d9d9",
                       line=dict(width=0), layer="below"))
    shapes.append(dict(type="rect", xref=f"{xa} domain", yref=ya, x0=0, x1=1,
                       y0=-BAND_INNER, y1=BAND_INNER, fillcolor="#bfbfbf",
                       line=dict(width=0), layer="below"))
    # dashed k line
    shapes.append(dict(type="line", xref=xa, yref=f"{ya} domain", x0=K_NYQ, x1=K_NYQ,
                       y0=0, y1=1, line=dict(color="#a6a6a6", width=2, dash="dash"),
                       layer="below"))
    # overline over "MAPE"
    shapes.append(dict(type="line", xref=f"{xa} domain", yref=f"{ya} domain",
                       x0=0.603, x1=0.763, y0=0.165, y1=0.165,
                       line=dict(color="black", width=1.3), layer="above"))

    annotations.append(dict(xref=f"{xa} domain", yref=f"{ya} domain", x=0.99, y=0.1,
                            xanchor="right", yanchor="middle", showarrow=False,
                            text=f"MAPE = {MAPE[idx]}",
                            font=dict(family=MATH, size=18.5, color="black")))
    if r == 1:
        annotations.append(dict(xref=f"{xa} domain", yref=f"{ya} domain", x=0.052, y=0.88,
                                xanchor="left", yanchor="middle", showarrow=False,
                                text="DE2 input : 9D parameters",
                                font=dict(family=TEXT, size=14.5, color="black")))
    if r == 1 and c == 2:
        annotations.append(dict(xref=f"{xa} domain", yref=f"{ya} domain", x=0.318, y=0.775,
                                xanchor="left", yanchor="middle", showarrow=False,
                                text="linear power spectrum",
                                font=dict(family=TEXT, size=14.5, color="black")))
    if c == 2:
        annotations.append(dict(xref=f"{xa} domain", yref=f"{ya} domain", x=0.988, y=0.89,
                                xanchor="right", yanchor="middle", showarrow=False,
                                text=f"<i>z</i> = {Z_LABELS[r-1]}",
                                font=dict(family=MATH, size=20, color="black")))

    fig.update_xaxes(row=r, col=c,
                     domain=[px(COLS[c-1][0]), px(COLS[c-1][1])],
                     type="log", range=[-2.221, 1.305],
                     tickmode="array", tickvals=X_TICKS, ticktext=X_TICKTEXT,
                     showticklabels=(r == 3),
                     ticks="inside", ticklen=5, tickwidth=1, tickcolor="black",
                     minor=dict(tickvals=X_MINOR, ticks="inside", ticklen=3,
                                tickwidth=1, tickcolor="black", showgrid=False),
                     showgrid=True, gridcolor="#e2e2e2", gridwidth=1,
                     showline=True, linecolor="black", linewidth=1.2,
                     mirror="allticks", zeroline=False,
                     tickfont=dict(family=MATH, size=20, color="black"))
    fig.update_yaxes(row=r, col=c,
                     domain=[py(ROWS[r-1][1]), py(ROWS[r-1][0])],
                     range=[-3.3, 3.3], tickmode="array", tickvals=Y_TICKS,
                     showticklabels=(c == 1),
                     ticks="inside", ticklen=5, tickwidth=1, tickcolor="black",
                     showgrid=False, zeroline=False,
                     showline=True, linecolor="black", linewidth=1.2,
                     mirror="allticks",
                     tickfont=dict(family=MATH, size=21, color="black"))

# axis titles
annotations.append(dict(xref="paper", yref="paper", x=px(512), y=py(565),
                        xanchor="center", yanchor="middle", showarrow=False,
                        text="<i>k</i> [<i>h</i> Mpc<sup>−1</sup>]",
                        font=dict(family=MATH, size=19, color="black")))
annotations.append(dict(xref="paper", yref="paper", x=px(132), y=py(298),
                        xanchor="center", yanchor="middle", showarrow=False, textangle=-90,
                        text="100 × (<i>P</i><sub>DE2</sub>(<i>k</i>) / <i>P</i><sub>sim</sub>(<i>k</i>) − 1)",
                        font=dict(family=MATH, size=19, color="black")))

# page header
annotations.append(dict(xref="paper", yref="paper", x=px(8), y=py(12),
                        xanchor="left", yanchor="middle", showarrow=False,
                        text="<i>Publications of the Astronomical Society of Japan</i>, (2018), Vol. 00, No. 0",
                        font=dict(family="Liberation Sans", size=12, color="black")))
annotations.append(dict(xref="paper", yref="paper", x=px(971), y=py(12),
                        xanchor="right", yanchor="middle", showarrow=False,
                        text="<b>13</b>",
                        font=dict(family="Liberation Sans", size=12, color="black")))
shapes.append(dict(type="line", xref="paper", yref="paper", x0=px(5), x1=px(975),
                   y0=py(32), y1=py(32), line=dict(color="black", width=2.5)))

fig.update_layout(width=W, height=H, margin=dict(l=0, r=0, t=0, b=0),
                  paper_bgcolor="white", plot_bgcolor="white", showlegend=False,
                  shapes=shapes, annotations=annotations)

fig.write_html("out.html")
